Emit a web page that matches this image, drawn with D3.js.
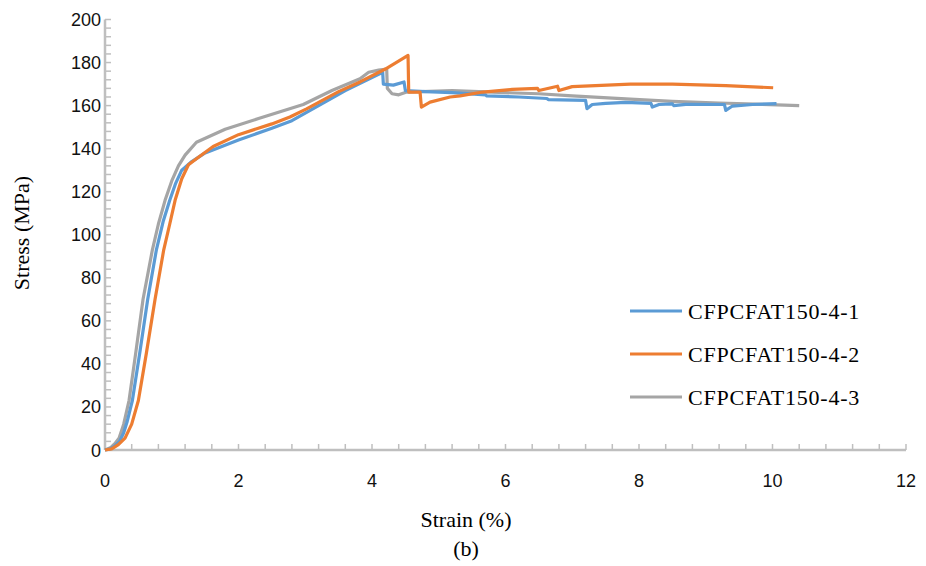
<!DOCTYPE html>
<meta charset="utf-8">
<script src="https://d3js.org/d3.v7.min.js"></script>
<style>
  body { margin: 0; background: #fff; }
  .tick-label { font-family: "Liberation Sans", Arial, sans-serif; font-size: 18px; fill: #111; }
  .title { font-family: "Liberation Serif", "Times New Roman", serif; font-size: 22px; fill: #000; }
</style>
<svg id="chart" width="926" height="566"></svg>
<script>
// series names and colours
const names = ["CFPCFAT150-4-1", "CFPCFAT150-4-2", "CFPCFAT150-4-3"];
const colors = ["#5B9BD5", "#ED7D31", "#A5A5A5"];

// strain (%) / stress (MPa)
const s1 = [[0,0],[0.08,0.5],[0.15,2],[0.22,4],[0.28,8],[0.33,13],[0.41,23],[0.52,45],[0.64,70],[0.77,93],[0.87,106],[0.97,116],[1.06,124],[1.15,130],[1.3,134],[1.5,138],[2.0,144],[2.5,149.5],[2.8,153],[3.2,160],[3.6,167],[4.16,175.5],[4.17,170],[4.32,169.5],[4.48,171],[4.5,167],[4.8,166.5],[5.2,166],[5.7,165],[5.72,164.5],[6.2,164],[6.62,163.3],[6.64,162.8],[7.2,162.4],[7.22,158.6],[7.3,160.5],[7.5,161],[7.8,161.5],[8.18,161],[8.2,159.3],[8.3,160.5],[8.5,160.8],[8.52,160],[8.7,160.6],[9.28,160.5],[9.3,157.8],[9.4,159.8],[9.7,160.5],[10.06,160.9]];
const s2 = [[0,0],[0.1,0.5],[0.2,2.5],[0.3,5.5],[0.4,12],[0.5,23],[0.62,45],[0.75,70],[0.88,93],[0.97,105],[1.05,116],[1.15,126],[1.25,132.5],[1.4,136],[1.62,141],[2.0,146.5],[2.5,151.5],[2.77,154.7],[3.02,158.5],[3.5,166.5],[3.82,171],[4.2,177],[4.54,183.3],[4.55,166.3],[4.72,166.3],[4.74,159.3],[4.87,161.6],[5.17,164],[5.32,164.5],[5.66,166.3],[6.1,167.5],[6.48,168],[6.5,167],[6.78,169],[6.8,167],[7.0,168.8],[7.87,170],[8.5,170],[9.3,169.3],[10.01,168.3]];
const s3 = [[0,0],[0.08,1],[0.15,3],[0.21,5.5],[0.28,12],[0.36,23],[0.46,45],[0.57,70],[0.71,93],[0.8,105],[0.9,116],[1.0,125],[1.1,132],[1.2,137],[1.37,143],[1.8,149],[2.3,154],[2.97,160.5],[3.4,167],[3.82,172.5],[3.95,175.5],[4.1,176.5],[4.22,177],[4.23,168],[4.3,165.5],[4.4,165],[4.52,166.3],[5.2,167],[6.0,166],[6.5,165.5],[7.0,164.5],[7.87,163],[8.5,162],[9.2,161.2],[10.4,160]];
const series = [s1, s2, s3];

const xTicks = [0, 2, 4, 6, 8, 10, 12];
const yTicks = [0, 20, 40, 60, 80, 100, 120, 140, 160, 180, 200];

const svg = d3.select("#chart");
const x = d3.scaleLinear().domain([0, 12]).range([105, 906]);
const y = d3.scaleLinear().domain([0, 200]).range([450, 19.5]);

// minor ticks (inside the plot)
const axisCol = "#bfbfbf";
svg.append("g")
  .selectAll("line")
  .data(d3.range(1, 31).map(i => i * 0.4))
  .join("line")
  .attr("x1", d => x(d)).attr("x2", d => x(d))
  .attr("y1", y(0)).attr("y2", y(0) - 6)
  .attr("stroke", axisCol).attr("stroke-width", 1.5);

svg.append("g")
  .selectAll("line")
  .data(d3.range(1, 51).map(i => i * 4))
  .join("line")
  .attr("x1", x(0)).attr("x2", x(0) + 6)
  .attr("y1", d => y(d)).attr("y2", d => y(d))
  .attr("stroke", axisCol).attr("stroke-width", 1.5);

// axis lines
svg.append("line").attr("x1", x(0)).attr("x2", x(12)).attr("y1", y(0)).attr("y2", y(0))
  .attr("stroke", axisCol).attr("stroke-width", 2.5);
svg.append("line").attr("x1", x(0)).attr("x2", x(0)).attr("y1", y(0)).attr("y2", y(200))
  .attr("stroke", axisCol).attr("stroke-width", 2.5);

// tick labels
svg.append("g").selectAll("text").data(xTicks).join("text")
  .attr("class", "tick-label")
  .attr("x", d => x(d)).attr("y", 487)
  .attr("text-anchor", "middle")
  .text(d => d);

svg.append("g").selectAll("text").data(yTicks).join("text")
  .attr("class", "tick-label")
  .attr("x", 101).attr("y", d => y(d) + 6.5)
  .attr("text-anchor", "end")
  .text(d => d);

// curves
const line = d3.line().x(d => x(d[0])).y(d => y(d[1]));
svg.append("g").selectAll("path").data([2, 0, 1]).join("path")
  .attr("d", i => line(series[i]))
  .attr("fill", "none")
  .attr("stroke", i => colors[i])
  .attr("stroke-width", 3.2)
  .attr("stroke-linejoin", "round");

// axis titles
svg.append("text").attr("class", "title")
  .attr("x", 466).attr("y", 527).attr("text-anchor", "middle")
  .text("Strain (%)");
svg.append("text").attr("class", "title")
  .attr("x", 466).attr("y", 556).attr("text-anchor", "middle")
  .text("(b)");
svg.append("text").attr("class", "title")
  .attr("transform", "translate(29,233) rotate(-90)")
  .attr("text-anchor", "middle")
  .text("Stress (MPa)");

// legend
const leg = svg.append("g").selectAll("g").data(names).join("g")
  .attr("transform", (d, i) => `translate(630,${311 + i * 43})`);
leg.append("line").attr("x1", 0).attr("x2", 52)
  .attr("stroke", (d, i) => colors[i]).attr("stroke-width", 3.2);
leg.append("text").attr("class", "title")
  .attr("x", 58).attr("y", 7.5)
  .style("letter-spacing", "0.8px")
  .text(d => d);
</script>
